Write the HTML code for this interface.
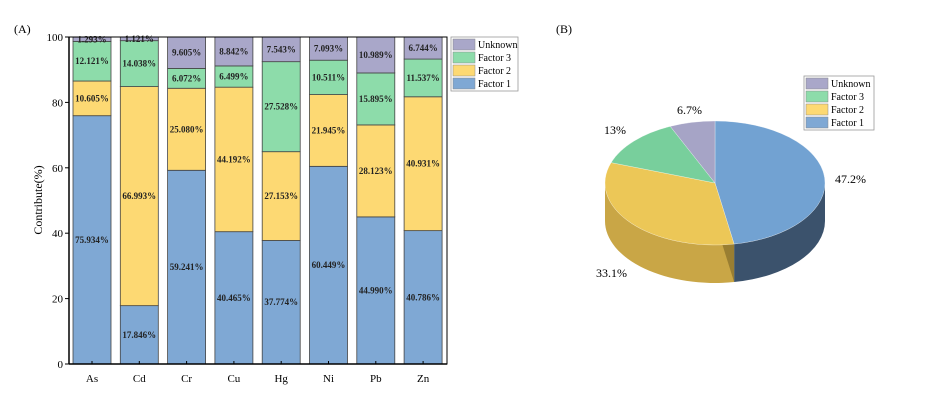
<!DOCTYPE html>
<html><head><meta charset="utf-8"><style>
html,body{margin:0;padding:0;background:#fff;width:928px;height:413px;overflow:hidden}
svg{display:block;font-family:"Liberation Serif",serif}
</style></head><body>
<svg id="s" width="928" height="413" viewBox="0 0 928 413"></svg>
<script>
const s=document.getElementById('s');let h='';
const C={f1:'#7fa8d4',f2:'#fdd973',f3:'#8ddcaa',u:'#a9a7c9'};
h+='<text x="14" y="33" font-size="12">(A)</text><text x="556" y="33" font-size="12">(B)</text>';
const y0=364,k=3.27,L=69,R=447;
const d=[['As',75.934,10.605,12.121,1.293],['Cd',17.846,66.993,14.038,1.121],['Cr',59.241,25.080,6.072,9.605],['Cu',40.465,44.192,6.499,8.842],['Hg',37.774,27.153,27.528,7.543],['Ni',60.449,21.945,10.511,7.093],['Pb',44.990,28.123,15.895,10.989],['Zn',40.786,40.931,11.537,6.744]];
const cols=[C.f1,C.f2,C.f3,C.u];
d.forEach((r,i)=>{const x=73+i*47.3,w=38;let acc=0;
 for(let j=0;j<4;j++){const v=r[j+1];const yt=y0-(acc+v)*k,hh=v*k;
  h+=`<rect x="${x}" y="${yt}" width="${w}" height="${hh}" fill="${cols[j]}" stroke="#444" stroke-width="0.8"/>`;
  h+=`<text x="${x+w/2}" y="${yt+hh/2+3}" font-size="9" font-weight="bold" text-anchor="middle" fill="#222">${v.toFixed(3)}%</text>`;
  acc+=v;}
 h+=`<line x1="${x+w/2}" y1="${y0}" x2="${x+w/2}" y2="${y0-3}" stroke="#000"/>`;
 h+=`<text x="${x+w/2}" y="${y0+18}" font-size="11" text-anchor="middle">${r[0]}</text>`;
});
h+=`<rect x="${L}" y="${y0-100*k}" width="${R-L}" height="${100*k}" fill="none" stroke="#000" stroke-width="1"/>`;
h+=`<line x1="${L}" y1="${y0}" x2="${R}" y2="${y0}" stroke="#000" stroke-width="1.5"/><line x1="${L}" y1="${y0}" x2="${L}" y2="${y0-100*k}" stroke="#000" stroke-width="1.5"/>`;
for(let t=0;t<=100;t+=20){const y=y0-t*k;h+=`<line x1="${L-4}" y1="${y}" x2="${L}" y2="${y}" stroke="#000"/><text x="${L-6}" y="${y+4}" font-size="11" text-anchor="end">${t}</text>`;}
h+=`<text transform="translate(42,200) rotate(-90)" font-size="12" text-anchor="middle">Contribute(%)</text>`;
function leg(x,y,w,items,fs){h+=`<rect x="${x}" y="${y}" width="${w}" height="${items.length*13+2}" fill="#fff" stroke="#999" stroke-width="0.8"/>`;
 items.forEach((it,i)=>{h+=`<rect x="${x+2}" y="${y+2+i*13}" width="22" height="11" fill="${it[1]}" stroke="#888" stroke-width="0.5"/><text x="${x+27}" y="${y+11+i*13}" font-size="${fs}">${it[0]}</text>`;});}
leg(451,37,67,[['Unknown',C.u],['Factor 3',C.f3],['Factor 2',C.f2],['Factor 1',C.f1]],10);
const cx=715,cy=183,rx=110,ry=62,D=38;
const P=(t,dd=0)=>[cx+rx*Math.sin(t*Math.PI/180),cy-ry*Math.cos(t*Math.PI/180)+dd];
function side(a,b,fill){const p1=P(a),p2=P(b),p3=P(b,D),p4=P(a,D);
 h+=`<path d="M${p1} A${rx} ${ry} 0 0 1 ${p2} L${p3} A${rx} ${ry} 0 0 0 ${p4}Z" fill="${fill}"/>`;}
side(90,170,'#3b526c');side(170,270,'#c9a646');
{const p=P(170);h+=`<path d="M${cx},${cy} L${p} L${p[0]},${p[1]+D} L${cx},${cy+D}Z" fill="#7a6425" opacity="0.6"/>`;}
function wedge(a,b,fill){const p1=P(a),p2=P(b);const lg=(b-a)>180?1:0;
 h+=`<path d="M${cx},${cy} L${p1} A${rx} ${ry} 0 ${lg} 1 ${p2}Z" fill="${fill}" stroke="#fff" stroke-width="0.5" stroke-opacity="0.6"/>`;}
wedge(0,170,'#72a2d2');wedge(170,289.2,'#ecc757');wedge(289.2,336,'#78cf9c');wedge(336,360,'#a6a4c6');
h+=`<text x="596" y="277" font-size="12">33.1%</text><text x="835" y="183" font-size="12">47.2%</text><text x="604" y="134" font-size="12">13%</text><text x="677" y="114" font-size="12">6.7%</text>`;
leg(804,76,70,[['Unknown',C.u],['Factor 3',C.f3],['Factor 2',C.f2],['Factor 1',C.f1]],10);
s.innerHTML=h;
</script>
</body></html>
